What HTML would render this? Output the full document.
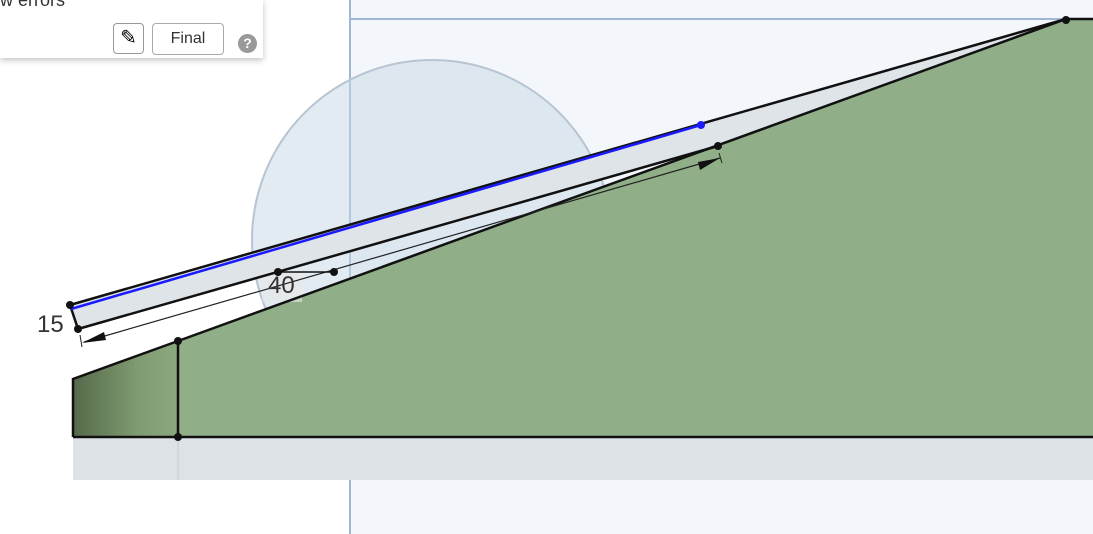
<!DOCTYPE html>
<html><head><meta charset="utf-8"><style>
body{margin:0;width:1093px;height:534px;overflow:hidden;background:#fff;font-family:"Liberation Sans",sans-serif}
#panel{position:absolute;left:0;top:0;width:263px;height:58px;background:#fff;box-shadow:0 2px 6px rgba(0,0,0,.25)}
</style></head><body>
<svg width="1093" height="534" style="position:absolute;left:0;top:0">
<defs><linearGradient id="lg" x1="0" x2="1"><stop offset="0" stop-color="#55694a"/><stop offset="0.6" stop-color="#7e9a70"/><stop offset="1" stop-color="#8ba97f"/></linearGradient></defs>
<rect x="350" y="0" width="743" height="534" fill="#f3f6fa"/>
<line x1="350" y1="0" x2="350" y2="534" stroke="#9fb6d6" stroke-width="2"/>
<line x1="350" y1="19" x2="1093" y2="19" stroke="#9fb6d6" stroke-width="2"/>
<circle cx="432" cy="240" r="180" fill="rgba(200,215,230,0.5)" stroke="#b7c4d2" stroke-width="2"/>
<rect x="73" y="437" width="1020" height="43" fill="#dde2e7"/>
<line x1="178" y1="437" x2="178" y2="480" stroke="#c5ccd3"/>
<polygon points="178,341 1066,19 1093,19 1093,437 178,437" fill="#90ae88"/>
<polygon points="73,379 178,341 178,437 73,437" fill="url(#lg)"/>
<polygon points="70,305 1066,19 718,146 78,329" fill="#dfe4e9"/>
<rect x="262" y="272" width="40" height="30" fill="#e8e8e8" opacity="0.6"/>
<polyline points="73,437 73,379 178,341 1066,19 1093,19" fill="none" stroke="#111" stroke-width="2.5"/>
<line x1="73" y1="437" x2="1093" y2="437" stroke="#111" stroke-width="2.5"/>
<line x1="178" y1="341" x2="178" y2="437" stroke="#111" stroke-width="2.5"/>
<line x1="70" y1="305" x2="1066" y2="19" stroke="#111" stroke-width="2.5"/>
<line x1="78" y1="329" x2="718" y2="146" stroke="#111" stroke-width="2.5"/>
<line x1="70" y1="305" x2="78" y2="329" stroke="#111" stroke-width="2.5"/>
<line x1="71" y1="309" x2="701" y2="125" stroke="#1a1aff" stroke-width="2.5"/>
<line x1="84" y1="342" x2="720" y2="158" stroke="#222" stroke-width="1.2"/>
<polygon points="82,343 104,332 106,340" fill="#111"/><polygon points="720,158 698,162 700,170" fill="#111"/>
<line x1="80" y1="335" x2="82" y2="347" stroke="#222"/><line x1="719" y1="153" x2="722" y2="163" stroke="#222"/>
<line x1="278" y1="272" x2="334" y2="272" stroke="#111" stroke-width="1.5"/>
<g fill="#111"><circle cx="70" cy="305" r="4"/><circle cx="78" cy="329" r="4"/><circle cx="178" cy="341" r="4"/><circle cx="178" cy="437" r="4"/><circle cx="1066" cy="20" r="4"/><circle cx="718" cy="146" r="4"/><circle cx="278" cy="272" r="4"/><circle cx="334" cy="272" r="4"/></g>
<circle cx="701" cy="125" r="4" fill="#1a1aff"/>
<text x="268" y="293" font-size="24" fill="#333">40</text>
<text x="37" y="332" font-size="24" fill="#333">15</text>
</svg>
<div id="panel">
<div style="position:absolute;left:0;top:-10px;font-size:18px;color:#333">w errors</div>
<div style="position:absolute;left:113px;top:23px;width:31px;height:31px;border:1px solid #999;border-radius:4px;box-sizing:border-box;text-align:center;font-size:20px;line-height:28px">✎</div>
<div style="position:absolute;left:152px;top:23px;width:72px;height:32px;border:1px solid #aaa;border-radius:4px;box-sizing:border-box;text-align:center;line-height:30px;font-size:16px;color:#333">Final</div>
<div style="position:absolute;left:238px;top:34px;width:19px;height:19px;border-radius:50%;background:#999;color:#fff;text-align:center;font-size:14px;font-weight:bold;line-height:19px">?</div>
</div>
</body></html>
